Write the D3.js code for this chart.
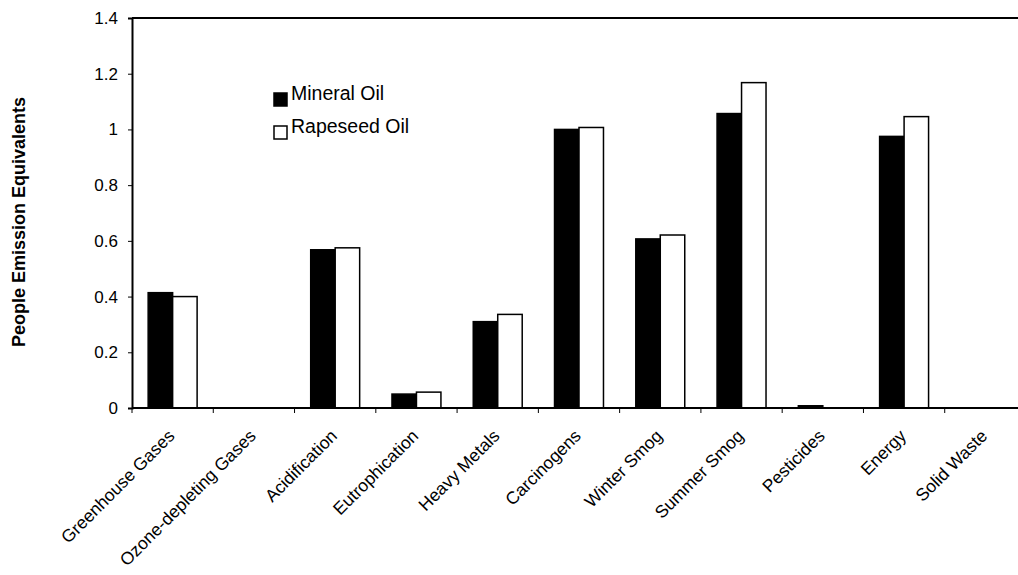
<!DOCTYPE html>
<html>
<head>
<meta charset="utf-8">
<script src="https://cdn.jsdelivr.net/npm/d3@7"></script>
<style>
  body { margin: 0; background: #fff; }
  text { font-family: "Liberation Sans", Arial, sans-serif; }
</style>
</head>
<body>
<div id="chart"></div>
<script>
// data
const categories = ["Greenhouse Gases", "Ozone-depleting Gases", "Acidification", "Eutrophication",
  "Heavy Metals", "Carcinogens", "Winter Smog", "Summer Smog", "Pesticides", "Energy", "Solid Waste"];
const seriesNames = ["Mineral Oil", "Rapeseed Oil"];
const mineralOil = [0.414, 0, 0.568, 0.05, 0.31, 1.0, 0.607, 1.057, 0.008, 0.975, 0];
const rapeseedOil = [0.40, 0, 0.575, 0.057, 0.336, 1.007, 0.621, 1.168, 0, 1.046, 0];
const yTicks = [0, 0.2, 0.4, 0.6, 0.8, 1, 1.2, 1.4];

const width = 1018, height = 575;
const margin = { top: 18, right: -8, bottom: 167, left: 132 };

const svg = d3.select("#chart").append("svg")
  .attr("width", width).attr("height", height);

const x = d3.scaleBand().domain(categories)
  .range([margin.left, width - margin.right]).padding(0);
const xSub = d3.scaleBand().domain(seriesNames)
  .range([0, x.bandwidth()]).paddingInner(0).paddingOuter(0.66);
const y = d3.scaleLinear().domain([0, 1.4]).range([height - margin.bottom, margin.top]);

const colors = { "Mineral Oil": "#000", "Rapeseed Oil": "#fff" };
const values = { "Mineral Oil": mineralOil, "Rapeseed Oil": rapeseedOil };

// top border
svg.append("line")
  .attr("x1", margin.left).attr("x2", width)
  .attr("y1", y(1.4)).attr("y2", y(1.4))
  .attr("stroke", "#000").attr("stroke-width", 2);

// bars
seriesNames.forEach(s => {
  svg.append("g").selectAll("rect")
    .data(categories.map((c, i) => ({ c, v: values[s][i] })).filter(d => d.v > 0))
    .join("rect")
    .attr("x", d => x(d.c) + xSub(s))
    .attr("y", d => y(d.v))
    .attr("width", xSub.bandwidth())
    .attr("height", d => y(0) - y(d.v))
    .attr("fill", colors[s])
    .attr("stroke", "#000")
    .attr("stroke-width", 1.5);
});

// y axis
const yAxis = svg.append("g")
  .attr("transform", `translate(${margin.left},0)`)
  .call(d3.axisLeft(y).tickValues(yTicks).tickSize(4).tickPadding(10)
    .tickFormat(d => d === 0 ? "0" : (d === 1 ? "1" : d3.format(".1f")(d))));
yAxis.select(".domain").attr("stroke-width", 2);
yAxis.selectAll("text").attr("font-size", 17).attr("fill", "#000")
  .style("font-family", "Liberation Sans, Arial, sans-serif");

// x axis: ticks at category boundaries
const xg = svg.append("g").attr("transform", `translate(0,${y(0)})`);
xg.append("line").attr("x1", margin.left).attr("x2", width)
  .attr("stroke", "#000").attr("stroke-width", 2);
xg.selectAll(".tk").data(categories).join("line")
  .attr("x1", d => x(d)).attr("x2", d => x(d))
  .attr("y1", 0).attr("y2", 5).attr("stroke", "#000");
xg.selectAll(".lbl").data(categories).join("text")
  .attr("transform", d => `translate(${x(d) + x.bandwidth() / 2 + 3},${29}) rotate(-45)`)
  .attr("text-anchor", "end")
  .attr("font-size", 17.5)
  .attr("fill", "#000")
  .text(d => d);

// y label
svg.append("text")
  .attr("transform", `translate(25,${(y(0) + y(1.4)) / 2 + 9}) rotate(-90)`)
  .attr("text-anchor", "middle")
  .attr("font-size", 18).attr("font-weight", "bold")
  .text("People Emission Equivalents");

// legend
const legend = svg.append("g").attr("transform", "translate(273,92)");
seriesNames.forEach((s, i) => {
  legend.append("rect").attr("x", 1).attr("y", i * 33 + 1)
    .attr("width", 13).attr("height", 13)
    .attr("fill", colors[s]).attr("stroke", "#000").attr("stroke-width", 1.5);
  legend.append("text").attr("x", 18).attr("y", i * 33 + 8)
    .attr("font-size", 19.5).text(s);
});
</script>
</body>
</html>
